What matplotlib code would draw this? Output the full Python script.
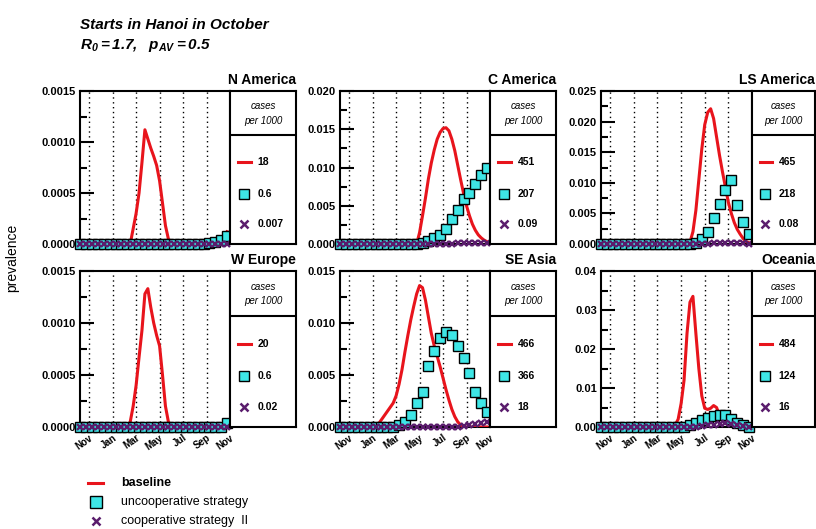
import numpy as np
import matplotlib
matplotlib.use("Agg")
import matplotlib.pyplot as plt
from matplotlib.ticker import MultipleLocator, FormatStrFormatter
from matplotlib.lines import Line2D

plt.rcParams['font.family'] = ['Liberation Sans', 'DejaVu Sans']
plt.rcParams['mathtext.fontset'] = 'custom'
plt.rcParams['mathtext.it'] = 'Liberation Sans:italic:bold'
plt.rcParams['mathtext.rm'] = 'Liberation Sans:italic:bold'

# time in months after 1 Oct (Nov = 1 ... Nov = 13)
t_line = np.arange(0.25, 12.76, 0.25)   # baseline curve, 51 points
t_mark = np.arange(0.25, 12.76, 0.5)    # strategy markers, 26 points
month_ticks = [1, 3, 5, 7, 9, 11, 13]
month_labels = ['Nov', 'Jan', 'Mar', 'May', 'Jul', 'Sep', 'Nov']

regions = ['N America', 'C America', 'LS America', 'W Europe', 'SE Asia', 'Oceania']

# baseline prevalence
base_nam = [0.0] * 18 + [0.00015, 0.0003, 0.0005, 0.0008, 0.00112, 0.00103, 0.00094, 0.00086,
                         0.00077, 0.00062, 0.0004, 0.00018, 0.00005, 0.00001] + [0.0] * 16 + \
           [0.00001, 0.00004, 0.00012]
base_cam = [0.0] * 27 + [0.0015, 0.0037, 0.006, 0.0085, 0.0106, 0.0123, 0.0137, 0.0146, 0.0151,
                         0.0152, 0.0148, 0.0137, 0.0122, 0.0103, 0.0084, 0.0066, 0.005, 0.0037,
                         0.0026, 0.0018, 0.0012, 0.0008, 0.0005, 0.0003]
base_lsa = [0.0] * 30 + [0.0003, 0.002, 0.0055, 0.0105, 0.0155, 0.0195, 0.0215, 0.0221, 0.0205,
                         0.0175, 0.0145, 0.0118, 0.0093, 0.0068, 0.005, 0.0035, 0.0024, 0.0016,
                         0.0009, 0.0004, 0.0002]
base_weu = [0.0] * 17 + [0.00005, 0.0002, 0.0004, 0.00067, 0.00093, 0.00128, 0.00133, 0.00115,
                         0.001, 0.00088, 0.00078, 0.0005, 0.0002, 0.00005, 0.00001] + [0.0] * 19
base_sea = [0.0] * 13 + [0.0003, 0.0007, 0.0011, 0.0015, 0.0019, 0.0023, 0.003, 0.0041, 0.0055,
                         0.0072, 0.0088, 0.0103, 0.0116, 0.0128, 0.0136, 0.0134, 0.0122, 0.0106,
                         0.009, 0.0078, 0.0068, 0.0058, 0.0047, 0.0036, 0.0026, 0.0017, 0.001,
                         0.0005, 0.0002] + [0.0] * 9
base_oce = [0.0] * 25 + [0.0005, 0.002, 0.006, 0.012, 0.024, 0.032, 0.0335, 0.024, 0.015, 0.008,
                         0.0048, 0.0045, 0.0048, 0.0055, 0.005, 0.003, 0.0018, 0.0013, 0.0012,
                         0.0011, 0.001, 0.0006, 0.0003, 0.0001] + [0.0] * 2

# uncooperative strategy
unc_nam = [0.0] * 22 + [0.00001, 0.00002, 0.00004, 0.00008]
unc_cam = [0.0] * 14 + [0.0001, 0.0004, 0.0008, 0.0012, 0.002, 0.0033, 0.0044, 0.0059, 0.0067,
                        0.0078, 0.009, 0.0099]
unc_lsa = [0.0] * 16 + [0.0002, 0.0008, 0.002, 0.0043, 0.0065, 0.0088, 0.0104, 0.0064, 0.0036,
                        0.0016]
unc_weu = [0.0] * 25 + [0.00004]
unc_sea = [0.0] * 10 + [0.0002, 0.0005, 0.0012, 0.0023, 0.0034, 0.0059, 0.0073, 0.0086, 0.0091,
                        0.0088, 0.0078, 0.0066, 0.0052, 0.0034, 0.0023, 0.0014]
unc_oce = [0.0] * 14 + [0.0001, 0.0004, 0.001, 0.0017, 0.0024, 0.0029, 0.0032, 0.0031, 0.0021,
                        0.0011, 0.0004, 0.0001]

# cooperative strategy II
coop_nam = [0.0] * 26
coop_cam = [0.0] * 20 + [0.0001] * 6
coop_lsa = [0.0] * 19 + [0.0001, 0.0002, 0.0002, 0.0002, 0.0001, 0.0001, 0.0]
coop_weu = [0.0] * 26
coop_sea = [0.0] * 21 + [0.0001, 0.0002, 0.0003, 0.0004, 0.0005]
coop_oce = [0.0] * 17 + [0.0002, 0.0004, 0.0006, 0.0008, 0.0009, 0.0008, 0.0006, 0.0003, 0.0001]

# cases per 1000 shown in each panel box
cases_base = ['18', '451', '465', '20', '466', '484']
cases_unc = ['0.6', '207', '218', '0.6', '366', '124']
cases_coop = ['0.007', '0.09', '0.08', '0.02', '18', '16']

baselines = [base_nam, base_cam, base_lsa, base_weu, base_sea, base_oce]
uncoops = [unc_nam, unc_cam, unc_lsa, unc_weu, unc_sea, unc_oce]
coops = [coop_nam, coop_cam, coop_lsa, coop_weu, coop_sea, coop_oce]

ymax = [0.0015, 0.020, 0.025, 0.0015, 0.015, 0.04]
ymajor = [0.0005, 0.005, 0.005, 0.0005, 0.005, 0.01]
yfmt = ['%.4f', '%.3f', '%.3f', '%.4f', '%.3f', '%.2f']

RED = '#e8141c'
CYAN = '#3ee6e6'
PURPLE = '#5a1c6c'

W, H = 816, 529
cols = [(80, 230, 296), (340, 490, 556), (601, 752, 815)]
rows = [(91, 244), (271, 427)]


def rect(l, r, top, bot):
    return [l / W, 1 - bot / H, (r - l) / W, (bot - top) / H]


fig = plt.figure(figsize=(W / 100, H / 100), dpi=100)

for k, name in enumerate(regions):
    top, bot = rows[k // 3]
    l, r, br = cols[k % 3]
    ax = fig.add_axes(rect(l, r, top, bot))

    ax.plot(t_line, baselines[k], color=RED, lw=2.2, zorder=3)
    ax.plot(t_mark, uncoops[k], ls='none', marker='s', ms=7, mfc=CYAN, mec='black',
            mew=1.0, zorder=4, clip_on=False)
    ax.plot(t_mark, coops[k], ls='none', marker='x', ms=5, mec=PURPLE, mew=1.7,
            zorder=5, clip_on=False)

    ax.set_xlim(0.22, 13.0)
    ax.set_ylim(0, ymax[k])
    ax.set_xticks(month_ticks)
    for m in month_ticks:
        ax.axvline(m, color='black', ls=(0, (1, 2.5)), lw=1.0, zorder=1)
    if k >= 3:
        ax.set_xticklabels(month_labels, rotation=35, ha='right', rotation_mode='anchor',
                           fontsize=7, fontweight='bold')
    else:
        ax.set_xticklabels([])
    ax.tick_params(axis='x', length=0, pad=4)

    ax.yaxis.set_major_locator(MultipleLocator(ymajor[k]))
    ax.yaxis.set_minor_locator(MultipleLocator(ymajor[k] / 2))
    ax.yaxis.set_major_formatter(FormatStrFormatter(yfmt[k]))
    ax.tick_params(axis='y', which='major', direction='in', length=10, width=1.5,
                   labelsize=8, pad=3)
    ax.tick_params(axis='y', which='minor', direction='in', length=5, width=1.5)
    for lab in ax.get_yticklabels():
        lab.set_fontweight('bold')
    for s in ax.spines.values():
        s.set_linewidth(1.5)

    # box with cases per 1000
    bx = fig.add_axes(rect(r, br, top, bot))
    bx.set_xlim(0, 1)
    bx.set_ylim(0, 1)
    bx.set_xticks([])
    bx.set_yticks([])
    for s in bx.spines.values():
        s.set_linewidth(1.5)
    bx.axhline(0.71, color='black', lw=1.5)
    bx.text(0.5, 0.9, 'cases', ha='center', va='center', fontsize=7, style='italic')
    bx.text(0.5, 0.805, 'per 1000', ha='center', va='center', fontsize=7, style='italic')
    bx.plot([0.12, 0.32], [0.535, 0.535], color=RED, lw=2.2)
    bx.plot([0.21], [0.33], marker='s', ms=7, mfc=CYAN, mec='black', mew=1.0)
    bx.plot([0.21], [0.13], marker='x', ms=6, mec=PURPLE, mew=1.8)
    bx.text(0.42, 0.535, cases_base[k], va='center', fontsize=7.5, fontweight='bold')
    bx.text(0.42, 0.33, cases_unc[k], va='center', fontsize=7.5, fontweight='bold')
    bx.text(0.42, 0.13, cases_coop[k], va='center', fontsize=7.5, fontweight='bold')

    fig.text(br / W, 1 - (top - 11) / H, name, ha='right', va='center',
             fontsize=10, fontweight='bold')

fig.text(80 / W, 1 - 25 / H, 'Starts in Hanoi in October', fontsize=11,
         style='italic', fontweight='bold', va='center')
fig.text(80 / W, 1 - 45 / H, r'$R_0 = 1.7,\ \ p_{AV} = 0.5$', fontsize=11, va='center')
fig.text(12 / W, 1 - 258 / H, 'prevalence', rotation=90, ha='center', va='center',
         fontsize=10)

# bottom legend
leg_y = [1 - 483 / H, 1 - 502 / H, 1 - 521 / H]
fig.add_artist(Line2D([88 / W, 103 / W], [leg_y[0], leg_y[0]], color=RED, lw=2.2))
fig.add_artist(Line2D([95.5 / W], [leg_y[1]], marker='s', ms=8, mfc=CYAN, mec='black', mew=1))
fig.add_artist(Line2D([95.5 / W], [leg_y[2]], marker='x', ms=6, mec=PURPLE, mew=1.8))
fig.text(121 / W, leg_y[0], 'baseline', fontsize=9, fontweight='bold', va='center')
fig.text(121 / W, leg_y[1], 'uncooperative strategy', fontsize=9, va='center')
fig.text(121 / W, leg_y[2], 'cooperative strategy  II', fontsize=9, va='center')

fig.savefig('out.png', dpi=100)
